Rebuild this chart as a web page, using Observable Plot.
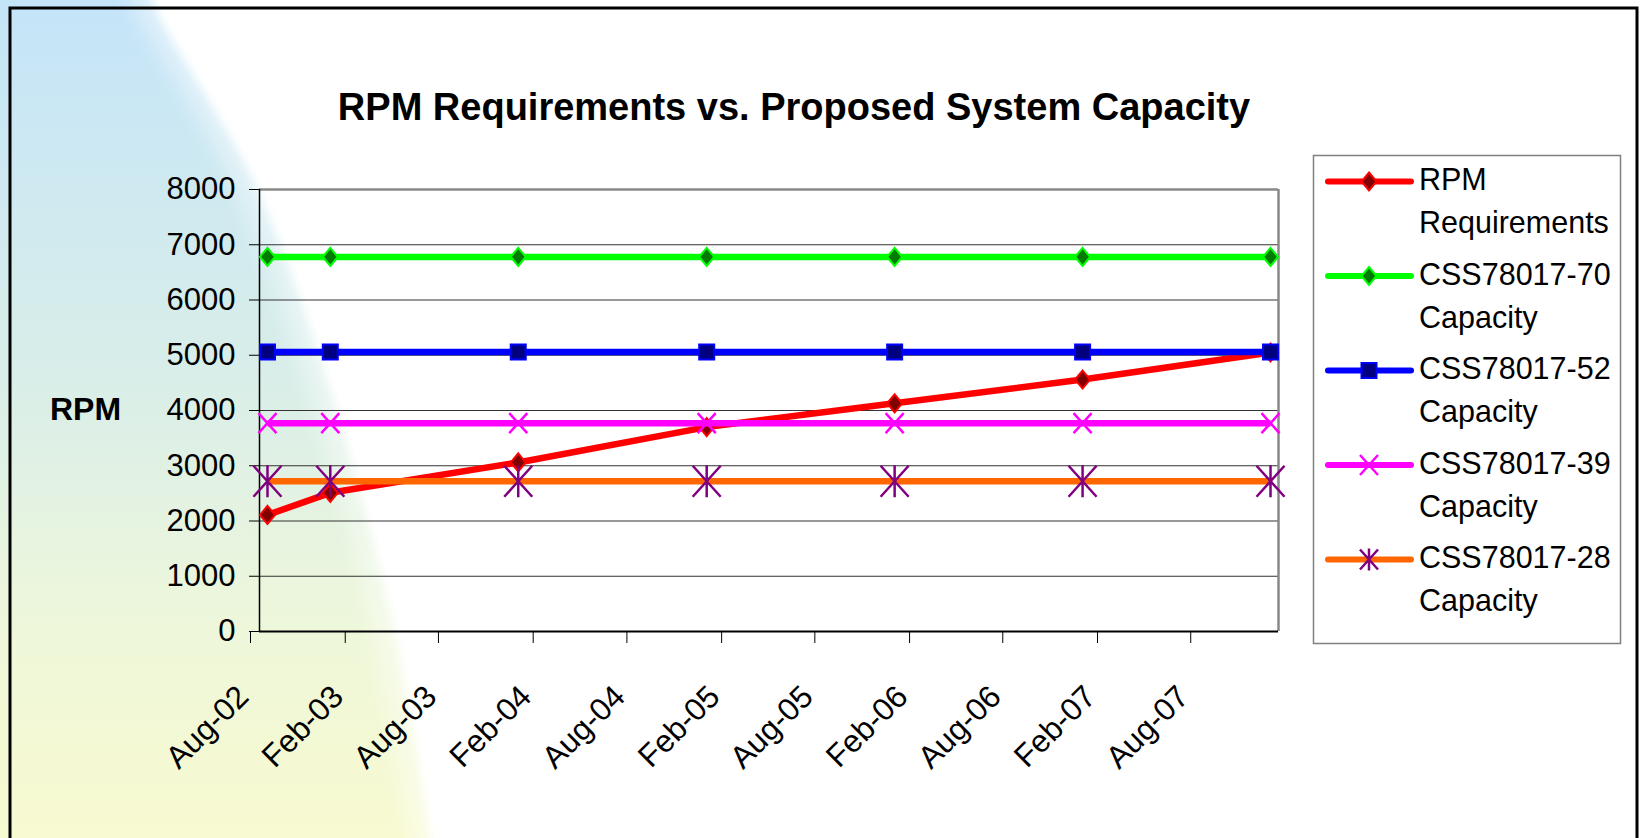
<!DOCTYPE html>
<html>
<head>
<meta charset="utf-8">
<script src="https://cdn.jsdelivr.net/npm/d3@7"></script>
<script src="https://cdn.jsdelivr.net/npm/@observablehq/plot@0.6"></script>
<style>
  html, body { margin: 0; padding: 0; overflow: hidden; background: #fff; }
  #stage { position: relative; width: 1647px; height: 838px; overflow: hidden;
           font-family: "Liberation Sans", Arial, Helvetica, sans-serif; }
  #bg, #chart, #overlay { position: absolute; left: 0; top: 0; }
  #overlay { pointer-events: none; }
</style>
</head>
<body>
<div id="stage">
  <svg id="bg" width="1647" height="838"></svg>
  <div id="chart"></div>
  <svg id="overlay" width="1647" height="838"></svg>
</div>
<script>
// ---------------- data ----------------
const months = ["2002-08", "2002-12", "2003-12", "2004-12", "2005-12", "2006-12", "2007-12"];
const rpmRequirements = [2110, 2510, 3060, 3700, 4130, 4560, 5050];
const css70Capacity = [6780, 6780, 6780, 6780, 6780, 6780, 6780];
const css52Capacity = [5060, 5060, 5060, 5060, 5060, 5060, 5060];
const css39Capacity = [3770, 3770, 3770, 3770, 3770, 3770, 3770];
const css28Capacity = [2720, 2720, 2720, 2720, 2720, 2720, 2720];
const seriesNames = ["RPM Requirements", "CSS78017-70 Capacity", "CSS78017-52 Capacity", "CSS78017-39 Capacity", "CSS78017-28 Capacity"];
const xTickLabels = ["Aug-02", "Feb-03", "Aug-03", "Feb-04", "Aug-04", "Feb-05", "Aug-05", "Feb-06", "Aug-06", "Feb-07", "Aug-07"];
const yTicks = [0, 1000, 2000, 3000, 4000, 5000, 6000, 7000, 8000];
const chartTitle = "RPM Requirements vs. Proposed System Capacity";
const yLabel = "RPM";

// ---------------- styles ----------------
const FONT = '"Liberation Sans", Arial, Helvetica, sans-serif';
const lineColors = ["#ff0000", "#00ff00", "#0000ff", "#ff00ff", "#ff6600"];
const markerKinds = ["diamond", "diamond", "square", "times", "asterisk"];
const markerFills = ["#800000", "#007a00", "#000080", "none", "none"];
const markerStrokes = ["#ff0000", "#00ff00", "#0000ff", "#ff00ff", "#800080"];
const markerStrokeWidths = [2, 2, 2, 2.5, 2.5];

const symbols = {
  diamond: {draw(c) { c.moveTo(0, -9); c.lineTo(7.5, 0); c.lineTo(0, 9); c.lineTo(-7.5, 0); c.closePath(); }},
  square: {draw(c) { c.moveTo(-7.5, -7.5); c.lineTo(7.5, -7.5); c.lineTo(7.5, 7.5); c.lineTo(-7.5, 7.5); c.closePath(); }},
  times: {draw(c) { c.moveTo(-9, -10); c.lineTo(9, 10); c.moveTo(-9, 10); c.lineTo(9, -10); }},
  asterisk: {draw(c) { c.moveTo(-14, -15.5); c.lineTo(14, 15.5); c.moveTo(-14, 15.5); c.lineTo(14, -15.5); c.moveTo(0, -16); c.lineTo(0, 16); }}
};
const legendSymbols = Object.assign({}, symbols, {
  asterisk: {draw(c) { c.moveTo(-9, -10); c.lineTo(9, 10); c.moveTo(-9, 10); c.lineTo(9, -10); c.moveTo(0, -11); c.lineTo(0, 11); }}
});

// ---------------- derived ----------------
const parseMonth = d3.utcParse("%Y-%m");
const monthStarts = months.map(parseMonth);
const midMonth = d => new Date((+d + +d3.utcMonth.offset(d, 1)) / 2);
const xDomain = [monthStarts[0], d3.utcMonth.offset(monthStarts[monthStarts.length - 1], 1)];
const tickDates = xTickLabels.map(d3.utcParse("%b-%y"));
const allValues = [rpmRequirements, css70Capacity, css52Capacity, css39Capacity, css28Capacity];
const seriesRows = allValues.map((vals, i) =>
  vals.map((v, j) => ({date: midMonth(monthStarts[j]), value: v, series: seriesNames[i]})));

// ---------------- background decoration ----------------
(function drawBackground() {
  const bg = d3.select("#bg");
  const defs = bg.append("defs");
  const g = defs.append("linearGradient").attr("id", "bgGrad").attr("x1", 0).attr("y1", 0).attr("x2", 0).attr("y2", 1);
  [[0, "#c4e4f8"], [0.45, "#d9eee9"], [0.75, "#eef7da"], [1, "#f8fad0"]]
    .forEach(([o, c]) => g.append("stop").attr("offset", o).attr("stop-color", c));
  defs.append("filter").attr("id", "blur1").attr("x", "-20%").attr("y", "-20%").attr("width", "140%").attr("height", "140%")
    .append("feGaussianBlur").attr("stdDeviation", 4);
  defs.append("filter").attr("id", "blur2").attr("x", "-20%").attr("y", "-20%").attr("width", "140%").attr("height", "140%")
    .append("feGaussianBlur").attr("stdDeviation", 9);
  bg.append("rect").attr("width", 1647).attr("height", 838).attr("fill", "url(#bgGrad)");
  const curve = [[150, -20], [152, 0], [256, 187], [335, 406], [394, 631], [430, 838], [434, 870]];
  const edge = d3.line().curve(d3.curveCatmullRom);
  const shape = (dx) => edge(curve.map(([x, y]) => [x + dx, y])) + "L1700,870L1700,-20Z";
  bg.append("path").attr("d", shape(-22)).attr("fill", "#fff").attr("fill-opacity", 0.4).attr("filter", "url(#blur2)");
  bg.append("path").attr("d", shape(0)).attr("fill", "#fff").attr("filter", "url(#blur1)");
  bg.append("rect").attr("x", 10).attr("y", 8).attr("width", 1627).attr("height", 900)
    .attr("fill", "none").attr("stroke", "#000").attr("stroke-width", 3);
})();

// ---------------- chart ----------------
const marks = [
  Plot.ruleY(yTicks.filter(d => d > 0 && d < 8000), {stroke: "#333", strokeWidth: 1}),
  Plot.ruleY([8000], {stroke: "#888", strokeWidth: 2.5}),
  Plot.ruleX([xDomain[1]], {stroke: "#888", strokeWidth: 2.5}),
  Plot.axisY({ticks: yTicks, tickSize: 10, tickPadding: 14, fontSize: 31, label: null, tickFormat: d => String(d)}),
  Plot.axisX({ticks: tickDates, tickFormat: d3.utcFormat("%b-%y"), tickSize: 12, tickPadding: 55,
              tickRotate: -45, textAnchor: "end", lineAnchor: "bottom", fontSize: 31.5, label: null, dx: -9}),
  Plot.ruleX([xDomain[0]], {stroke: "#000", strokeWidth: 1.5}),
  Plot.ruleY([0], {stroke: "#000", strokeWidth: 2})
];
seriesRows.forEach((rows, i) => {
  marks.push(Plot.line(rows, {x: "date", y: "value", stroke: lineColors[i], strokeWidth: 6.5,
                              strokeLinejoin: "round", strokeLinecap: "butt"}));
  marks.push(Plot.dot(rows, {x: "date", y: "value", symbol: symbols[markerKinds[i]], r: 6,
                             fill: markerFills[i], stroke: markerStrokes[i], strokeWidth: markerStrokeWidths[i]}));
});

const chart = Plot.plot({
  width: 1647,
  height: 838,
  marginLeft: 259,
  marginRight: 369,
  marginTop: 189,
  marginBottom: 207,
  style: {background: "transparent", fontFamily: FONT, color: "#000", overflow: "visible"},
  x: {type: "utc", domain: xDomain},
  y: {domain: [0, 8000]},
  marks
});
document.getElementById("chart").appendChild(chart);

// ---------------- title, axis label, legend ----------------
(function drawOverlay() {
  const ov = d3.select("#overlay").style("font-family", FONT);
  ov.append("text").attr("x", 794).attr("y", 120).attr("text-anchor", "middle")
    .attr("font-weight", "bold").attr("font-size", 38).attr("fill", "#000").text(chartTitle);
  ov.append("text").attr("x", 50).attr("y", 420).attr("font-weight", "bold")
    .attr("font-size", 32).attr("fill", "#000").text(yLabel);

  const lg = ov.append("g");
  lg.append("rect").attr("x", 1313.5).attr("y", 155.5).attr("width", 307).attr("height", 488)
    .attr("fill", "#fff").attr("stroke", "#808080").attr("stroke-width", 1.5);
  seriesNames.forEach((name, i) => {
    const base = 190 + i * 94.5;
    const my = base - 8.5;
    lg.append("line").attr("x1", 1328).attr("x2", 1411).attr("y1", my).attr("y2", my)
      .attr("stroke", lineColors[i]).attr("stroke-width", 6).attr("stroke-linecap", "round");
    lg.append("path").attr("transform", `translate(1369,${my})`)
      .attr("d", d3.symbol().type(legendSymbols[markerKinds[i]])())
      .attr("fill", markerFills[i]).attr("stroke", markerStrokes[i]).attr("stroke-width", markerStrokeWidths[i]);
    const words = name.split(" ");
    const first = words.slice(0, words.length - 1).join(" ");
    const second = words[words.length - 1];
    const t = lg.append("text").attr("font-size", 30.5).attr("fill", "#000");
    t.append("tspan").attr("x", 1419).attr("y", base).text(first);
    t.append("tspan").attr("x", 1419).attr("y", base + 43).text(second);
  });
})();
</script>
</body>
</html>
